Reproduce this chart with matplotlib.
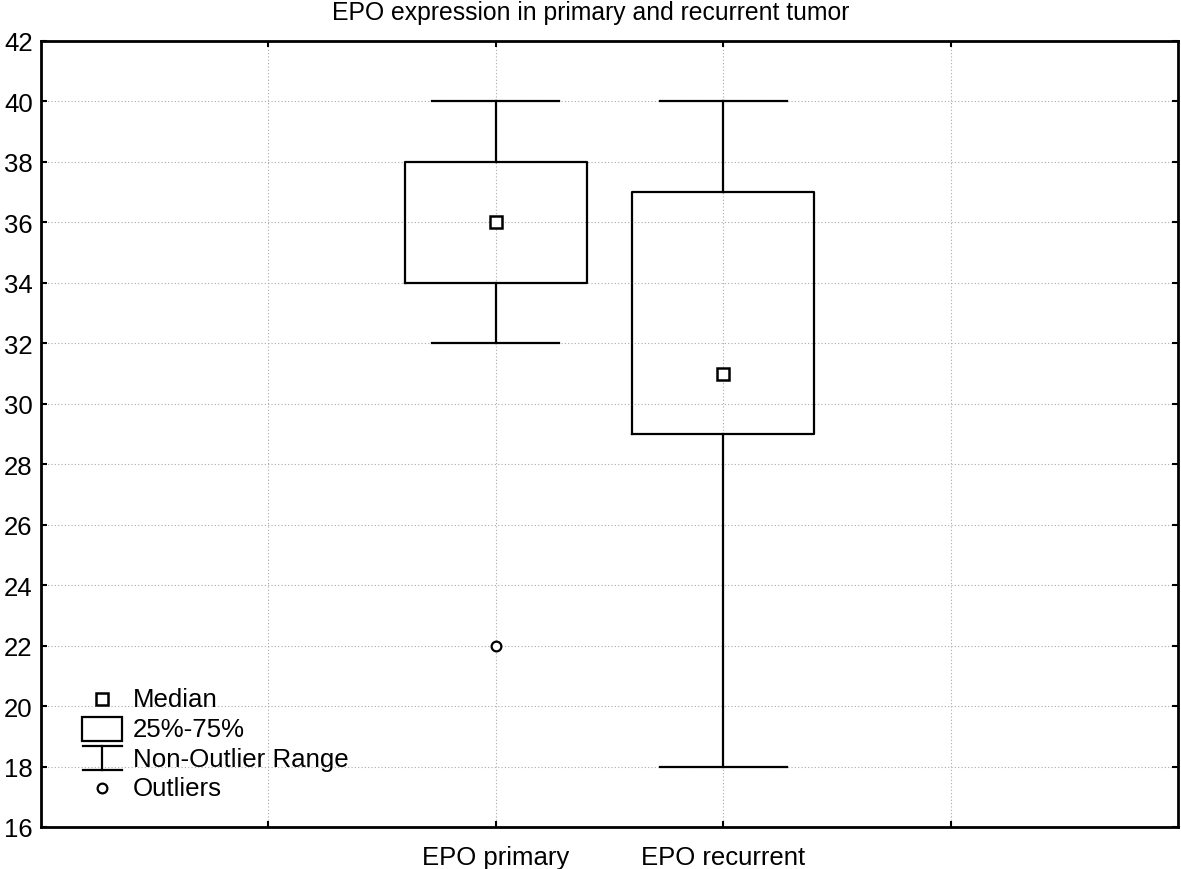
import matplotlib.pyplot as plt
from matplotlib.lines import Line2D
from matplotlib.patches import Rectangle

plt.rcParams['font.family'] = ['Liberation Sans', 'DejaVu Sans']

# Daten
labels = ['EPO primary', 'EPO recurrent']
positions = [1, 2]
medians = [36, 31]
q1 = [34, 29]
q3 = [38, 37]
whislo = [32, 18]
whishi = [40, 40]
outliers = [[22], []]

stats = []
for i in range(len(labels)):
    stats.append({'label': labels[i], 'med': medians[i], 'q1': q1[i], 'q3': q3[i],
                  'whislo': whislo[i], 'whishi': whishi[i], 'fliers': outliers[i]})

fig = plt.figure(figsize=(11.81, 8.70), dpi=100)
ax = fig.add_axes([41/1181, 1 - 828/870, 1137/1181, 786/870])

lw = 1.6
ax.bxp(stats, positions=positions, widths=0.8, showfliers=True,
       boxprops=dict(color='black', linewidth=lw),
       whiskerprops=dict(color='black', linewidth=lw),
       capprops=dict(color='black', linewidth=lw),
       medianprops=dict(linewidth=0),
       flierprops=dict(marker='o', markersize=7, markerfacecolor='white',
                       markeredgecolor='black', markeredgewidth=1.6),
       capwidths=0.56, zorder=3)

# Median als Quadrat
ax.plot(positions, medians, linestyle='none', marker='s', markersize=8,
        markerfacecolor='white', markeredgecolor='black', markeredgewidth=1.8, zorder=4)

ax.set_xlim(-1, 4)
ax.set_ylim(16, 42)
ax.set_yticks(range(16, 43, 2))
ax.set_xticks([0, 1, 2, 3])
ax.set_xticklabels(['', labels[0], labels[1], ''])
ax.tick_params(direction='in', length=4, width=1.5, labelsize=18.5,
               top=True, right=True, pad=13)
ax.tick_params(axis='y', pad=6)
ax.grid(True, linestyle=(0, (1, 2)), color='#aaaaaa', linewidth=0.8, zorder=0)
for s in ax.spines.values():
    s.set_linewidth(2)

# Titel mittig über der ganzen Abbildung
fig.text(0.5, 1 - 13/870, 'EPO expression in primary and recurrent tumor',
         fontsize=17.8, ha='center', va='center')

# Legende von Hand gezeichnet (Pixel -> Achsenanteil)
def fx(px):
    return (px - 41) / 1137.0

def fy(py):
    return (828 - py) / 786.0

T = ax.transAxes
ax.plot([fx(102)], [fy(700)], transform=T, marker='s', markersize=8,
        markerfacecolor='white', markeredgecolor='black', markeredgewidth=1.8, clip_on=False)
ax.add_patch(Rectangle((fx(82), fy(742)), fx(122) - fx(82), fy(718) - fy(742),
                       transform=T, facecolor='white', edgecolor='black', linewidth=lw))
ax.add_line(Line2D([fx(83), fx(122)], [fy(747), fy(747)], transform=T, color='black', linewidth=lw))
ax.add_line(Line2D([fx(102), fx(102)], [fy(747), fy(771)], transform=T, color='black', linewidth=lw))
ax.add_line(Line2D([fx(83), fx(122)], [fy(771), fy(771)], transform=T, color='black', linewidth=lw))
ax.plot([fx(102)], [fy(789)], transform=T, marker='o', markersize=7,
        markerfacecolor='white', markeredgecolor='black', markeredgewidth=1.6)

leg_text = ['Median', '25%-75%', 'Non-Outlier Range', 'Outliers']
leg_y = [700, 730, 760, 789]
for t, y in zip(leg_text, leg_y):
    ax.text(fx(133), fy(y), t, transform=T, fontsize=18.6, va='center', ha='left')

fig.savefig('out.png', dpi=100)
